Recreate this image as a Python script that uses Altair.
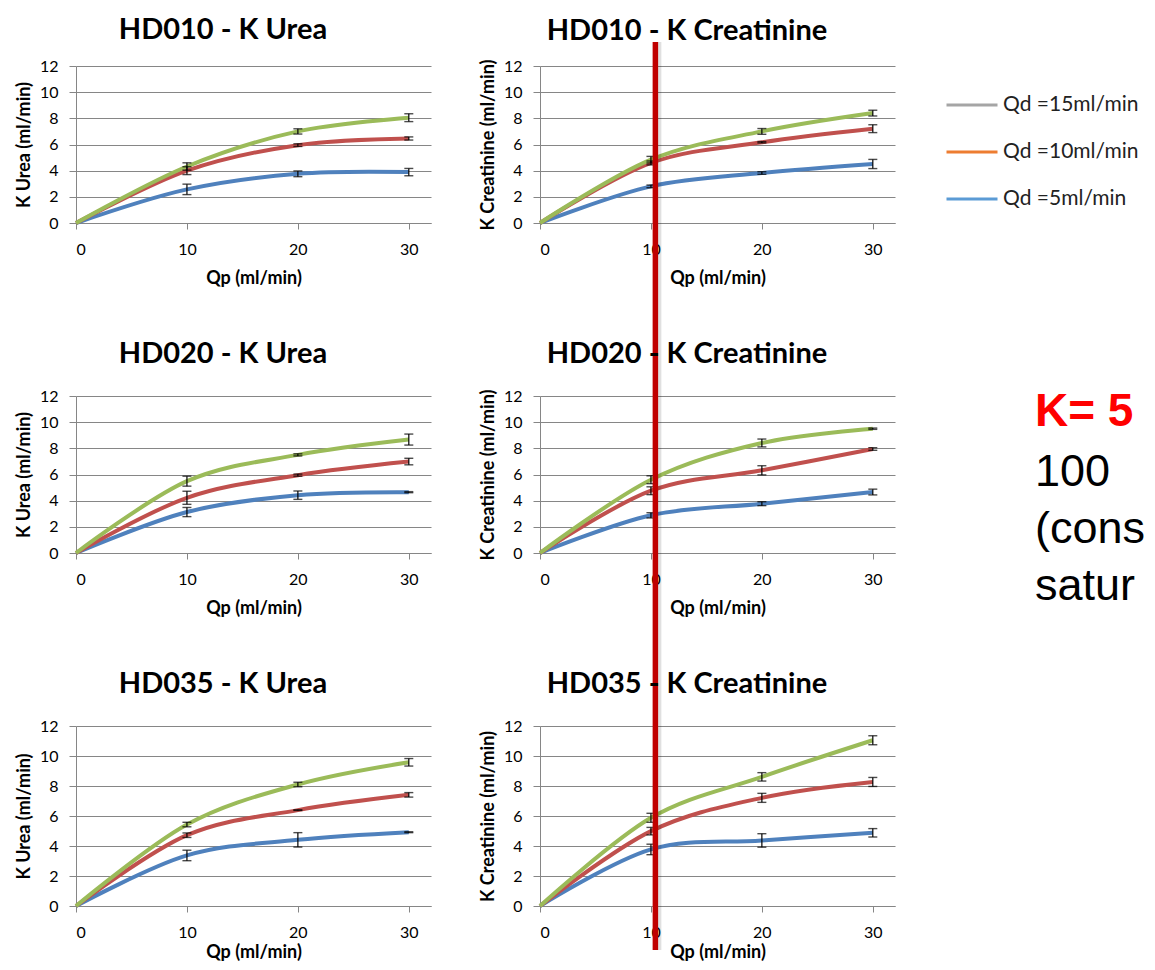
import altair as alt
import pandas as pd

# ---------------- data ----------------
QP = [0, 10, 20, 30]
SERIES = ["Qd =5ml/min", "Qd =10ml/min", "Qd =15ml/min"]          # drawing order
LINE_COLORS = ["#4F81BD", "#C0504D", "#9BBB59"]
LEGEND_LABELS = ["Qd =15ml/min", "Qd =10ml/min", "Qd =5ml/min"]
LEGEND_COLORS = ["#A5A5A5", "#ED7D31", "#5B9BD5"]

TITLES = ["HD010 - K Urea", "HD010 - K Creatinine",
          "HD020 - K Urea", "HD020 - K Creatinine",
          "HD035 - K Urea", "HD035 - K Creatinine"]
Y_TITLES = ["K Urea (ml/min)", "K Creatinine (ml/min)"] * 3
X_TITLE = "Qp (ml/min)"
X_TICKS = [0, 10, 20, 30]
Y_TICKS = [0, 2, 4, 6, 8, 10, 12]

# K (ml/min) at Qp = 0, 10, 20, 30 ; rows: Qd = 5, 10, 15 ml/min
hd010_urea = [[0, 2.57, 3.76, 3.89], [0, 4.00, 5.95, 6.46], [0, 4.32, 7.00, 8.05]]
hd010_urea_err = [[0, 0.40, 0.22, 0.28], [0, 0.30, 0.10, 0.12], [0, 0.28, 0.20, 0.30]]
hd010_creat = [[0, 2.80, 3.82, 4.51], [0, 4.59, 6.17, 7.21], [0, 4.84, 7.00, 8.40]]
hd010_creat_err = [[0, 0.10, 0.10, 0.35], [0, 0.15, 0.05, 0.30], [0, 0.25, 0.22, 0.22]]
hd020_urea = [[0, 3.13, 4.42, 4.65], [0, 4.22, 5.95, 6.99], [0, 5.49, 7.50, 8.67]]
hd020_urea_err = [[0, 0.35, 0.32, 0.04], [0, 0.50, 0.08, 0.25], [0, 0.38, 0.08, 0.42]]
hd020_creat = [[0, 2.88, 3.77, 4.66], [0, 4.76, 6.32, 7.95], [0, 5.60, 8.41, 9.50]]
hd020_creat_err = [[0, 0.20, 0.15, 0.22], [0, 0.30, 0.35, 0.10], [0, 0.30, 0.30, 0.05]]
hd035_urea = [[0, 3.37, 4.41, 4.92], [0, 4.72, 6.39, 7.41], [0, 5.43, 8.10, 9.58]]
hd035_urea_err = [[0, 0.35, 0.48, 0.03], [0, 0.15, 0.02, 0.15], [0, 0.15, 0.15, 0.25]]
hd035_creat = [[0, 3.77, 4.37, 4.88], [0, 4.99, 7.21, 8.27], [0, 5.88, 8.61, 11.05]]
hd035_creat_err = [[0, 0.35, 0.45, 0.28], [0, 0.25, 0.30, 0.30], [0, 0.30, 0.28, 0.30]]

NOTE_LINES = ["K= 5 ml/min", "100 ml/min", "(considered", "saturation)"]
ANNOT_QP = 10.4   # vertical marker line position (Qp)

# ---------------- style ----------------
FONT = "Lato"
GRID = "#868686"
W = 355
H_ROW = [157, 157, 180]


def x_enc(field="qp:Q", title_pad=12):
    return alt.X(field, title=X_TITLE,
                 scale=alt.Scale(domain=[0, 32], nice=False, zero=False),
                 axis=alt.Axis(values=X_TICKS, grid=False, tickSize=6, tickColor=GRID,
                               domainColor=GRID, labelFont=FONT, labelFontSize=16,
                               labelColor="#000", labelPadding=12, labelOverlap=False,
                               titleFont=FONT, titleFontSize=18, titleFontWeight="bold",
                               titleColor="#000", titlePadding=title_pad))


def y_enc(field, ytitle):
    return alt.Y(field, title=ytitle,
                 scale=alt.Scale(domain=[0, 12], nice=False),
                 axis=alt.Axis(values=Y_TICKS, grid=True, gridColor=GRID, tickSize=7,
                               tickColor=GRID, domainColor=GRID, labelFont=FONT,
                               labelFontSize=16, labelColor="#000", labelPadding=11,
                               labelOverlap=False, titleFont=FONT, titleFontSize=18,
                               titleFontWeight="bold", titleColor="#000", titlePadding=6))


def make_panel(idx, vals, errs, height, title_offset, extra=(), xpad=12):
    recs = []
    for s, v, e in zip(SERIES, vals, errs):
        for q, k, d in zip(QP, v, e):
            recs.append({"series": s, "qp": q, "k": k, "lo": k - d, "hi": k + d})
    df = pd.DataFrame(recs)
    dfe = df[df["qp"] > 0]
    yt = Y_TITLES[idx]
    xe = x_enc(title_pad=xpad)

    lines = alt.Chart(df).mark_line(interpolate="cardinal", strokeWidth=4).encode(
        x=xe, y=y_enc("k:Q", yt),
        color=alt.Color("series:N", scale=alt.Scale(domain=SERIES, range=LINE_COLORS),
                        legend=None),
        order=alt.Order("qp:Q"))
    bars = alt.Chart(dfe).mark_rule(color="black", strokeWidth=1.2).encode(
        x=xe, y=y_enc("lo:Q", yt), y2="hi:Q")
    cap_lo = alt.Chart(dfe).mark_tick(orient="horizontal", size=9, thickness=1.4,
                                      color="black").encode(x=xe, y=y_enc("lo:Q", yt))
    cap_hi = alt.Chart(dfe).mark_tick(orient="horizontal", size=9, thickness=1.4,
                                      color="black").encode(x=xe, y=y_enc("hi:Q", yt))
    layers = [lines, bars, cap_lo, cap_hi] + [f(xe, yt) for f in extra]
    return alt.layer(*layers).properties(
        width=W, height=height,
        title=alt.TitleParams(TITLES[idx], font=FONT, fontSize=29, fontWeight="bold",
                              color="#000", anchor="middle", frame="group", dx=-30.5,
                              offset=title_offset, baseline="alphabetic"))


def marker(y_top, y_bottom):
    d = pd.DataFrame({"qp": [ANNOT_QP]})

    def shadow(xe, yt):
        return alt.Chart(d).mark_rule(color="#000000", opacity=0.12, strokeWidth=6,
                                      xOffset=3).encode(
            x=xe, y=alt.value(y_top), y2=alt.value(y_bottom))

    def red(xe, yt):
        return alt.Chart(d).mark_rule(color="#C00000", strokeWidth=5.5).encode(
            x=xe, y=alt.value(y_top), y2=alt.value(y_bottom))
    return [shadow, red]


legend_df = pd.DataFrame({"label": LEGEND_LABELS, "qp": [15] * 3, "k": [6] * 3})


def legend_layer(xe, yt):
    return alt.Chart(legend_df).mark_point(opacity=0).encode(
        x=xe, y=y_enc("k:Q", yt),
        stroke=alt.Stroke("label:N",
                          scale=alt.Scale(domain=LEGEND_LABELS, range=LEGEND_COLORS),
                          legend=alt.Legend(orient="none", legendX=405, legendY=12,
                                            title=None, direction="vertical",
                                            symbolType="stroke", symbolSize=2601,
                                            symbolStrokeWidth=3, symbolOpacity=1,
                                            labelFont=FONT, labelFontSize=21,
                                            labelColor="#222", labelOffset=4,
                                            rowPadding=10, padding=0)))


NOTE_Y = [30.4, 89.7, 146.7, 203.7]


def note_layer(i):
    def f(xe, yt):
        nd = pd.DataFrame({"t": [NOTE_LINES[i]]})
        return alt.Chart(nd).mark_text(
            align="left", baseline="alphabetic", font="Liberation Sans",
            fontSize=46 if i == 0 else 45, fontWeight="bold" if i == 0 else "normal",
            color="#FF0000" if i == 0 else "#000000", limit=111,
            ellipsis="\u200b").encode(
            text="t:N", x=alt.value(495), y=alt.value(NOTE_Y[i]))
    return f


ROW_STEP = 330
T_OFF = -3.5
p1 = make_panel(0, hd010_urea, hd010_urea_err, H_ROW[0], T_OFF - 6)
p2 = make_panel(1, hd010_creat, hd010_creat_err, H_ROW[0], T_OFF - 26,
                extra=marker(-24, ROW_STEP) + [legend_layer])
p3 = make_panel(2, hd020_urea, hd020_urea_err, H_ROW[1], T_OFF)
p4 = make_panel(3, hd020_creat, hd020_creat_err, H_ROW[1], T_OFF,
                extra=marker(0, ROW_STEP) + [note_layer(i) for i in range(4)])
p5 = make_panel(4, hd035_urea, hd035_urea_err, H_ROW[2], T_OFF, xpad=3)
p6 = make_panel(5, hd035_creat, hd035_creat_err, H_ROW[2], T_OFF,
                extra=marker(0, 224), xpad=3)

PAD_L, PAD_T = 68, 58
SVG_W, SVG_H = 1139, 954
chart = alt.concat(p1, p2, p3, p4, p5, p6, columns=2,
                   spacing={"row": ROW_STEP - H_ROW[0], "column": 464 - W},
                   bounds="flush").resolve_scale(stroke="independent").configure_view(
    strokeWidth=0).properties(
    autosize=alt.AutoSizeParams(type="none"),
    padding={"left": PAD_L, "top": PAD_T, "right": SVG_W - PAD_L, "bottom": SVG_H - PAD_T})

chart.save("out.html", embed_options={"renderer": "svg", "actions": False})
